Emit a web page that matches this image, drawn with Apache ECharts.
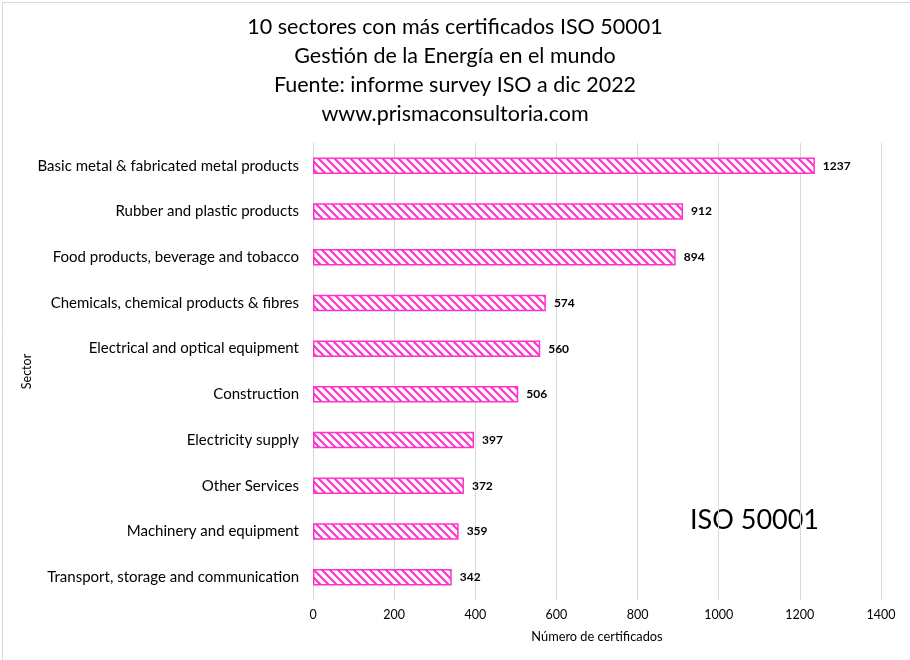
<!DOCTYPE html>
<html>
<head>
<meta charset="utf-8">
<script src="https://cdn.jsdelivr.net/npm/echarts@6/dist/echarts.min.js"></script>
<style>
  html, body { margin: 0; padding: 0; background: #fff; }
  #main { width: 910px; height: 660px; }
</style>
</head>
<body>
<div id="main"></div>
<script>
// datos (de abajo hacia arriba, como los pinta el eje)
var sectores = [
  'Transport, storage and communication',
  'Machinery and equipment',
  'Other Services',
  'Electricity supply',
  'Construction',
  'Electrical and optical equipment',
  'Chemicals, chemical products & fibres',
  'Food products, beverage and tobacco',
  'Rubber and plastic products',
  'Basic metal & fabricated metal products'
];
var certificados = [342, 359, 372, 397, 506, 560, 574, 894, 912, 1237];
var titulo = [
  '10 sectores con más certificados ISO 50001',
  'Gestión de la Energía en el mundo',
  'Fuente: informe survey ISO a dic 2022',
  'www.prismaconsultoria.com'
];

var rosa = '#FF33CC';
var fuente = 'Lato, "Open Sans", sans-serif';

// trama rayada tipo Excel
var trama = document.createElement('canvas');
trama.width = 8;
trama.height = 8;
var ctx = trama.getContext('2d');
ctx.fillStyle = '#fff';
ctx.fillRect(0, 0, 8, 8);
ctx.strokeStyle = rosa;
ctx.lineWidth = 2.2;
ctx.beginPath();
ctx.moveTo(-2, -2); ctx.lineTo(10, 10);
ctx.moveTo(-6, 2); ctx.lineTo(2, 10);
ctx.moveTo(6, -2); ctx.lineTo(14, 6);
ctx.stroke();

var myChart = echarts.init(document.getElementById('main'));

var option = {
  animation: false,
  backgroundColor: '#fff',
  title: {
    text: titulo.join('\n'),
    left: 'center',
    top: 7,
    textStyle: {
      fontFamily: fuente,
      fontWeight: 'normal',
      fontSize: 21.5,
      lineHeight: 29.3,
      color: '#000'
    }
  },
  grid: {
    left: 313,
    right: 29,
    top: 143,
    bottom: 60
  },
  xAxis: {
    type: 'value',
    min: 0,
    max: 1400,
    interval: 200,
    name: 'Número de certificados',
    nameLocation: 'middle',
    nameGap: 30,
    nameTextStyle: { fontFamily: fuente, fontSize: 12.8, color: '#000' },
    axisLine: { show: false },
    axisTick: { show: false },
    axisLabel: {
      fontFamily: fuente, fontSize: 12.5, color: '#000', margin: 8,
      formatter: function (v) { return String(v); }
    },
    splitLine: { lineStyle: { color: '#D9D9D9', width: 1 } }
  },
  yAxis: {
    type: 'category',
    data: sectores,
    name: 'Sector',
    nameLocation: 'middle',
    nameGap: 280,
    nameMoveOverlap: false,
    nameRotate: 90,
    nameTextStyle: { fontFamily: fuente, fontSize: 12.5, color: '#000' },
    axisLine: { show: true, lineStyle: { color: '#D9D9D9' } },
    axisTick: { show: false },
    axisLabel: { fontFamily: fuente, fontSize: 15, color: '#000', margin: 14 }
  },
  graphic: [
    {
      type: 'rect',
      left: 0,
      top: 0,
      shape: { width: 909, height: 659 },
      style: { fill: 'none', stroke: '#D9D9D9', lineWidth: 1 },
      silent: true
    },
    {
      type: 'text',
      left: 690,
      top: 507,
      style: { text: 'ISO 50001', fontFamily: fuente, fontSize: 27, fill: '#000' }
    }
  ],
  series: [
    {
      name: 'certificados',
      type: 'bar',
      data: certificados,
      barCategoryGap: '64%',
      itemStyle: {
        color: { image: trama, repeat: 'repeat' },
        borderColor: rosa,
        borderWidth: 1.5
      },
      label: {
        show: true,
        position: 'right',
        distance: 8,
        fontFamily: fuente,
        fontSize: 12,
        fontWeight: 'bold',
        color: '#000'
      }
    }
  ]
};

myChart.setOption(option);
</script>
</body>
</html>
